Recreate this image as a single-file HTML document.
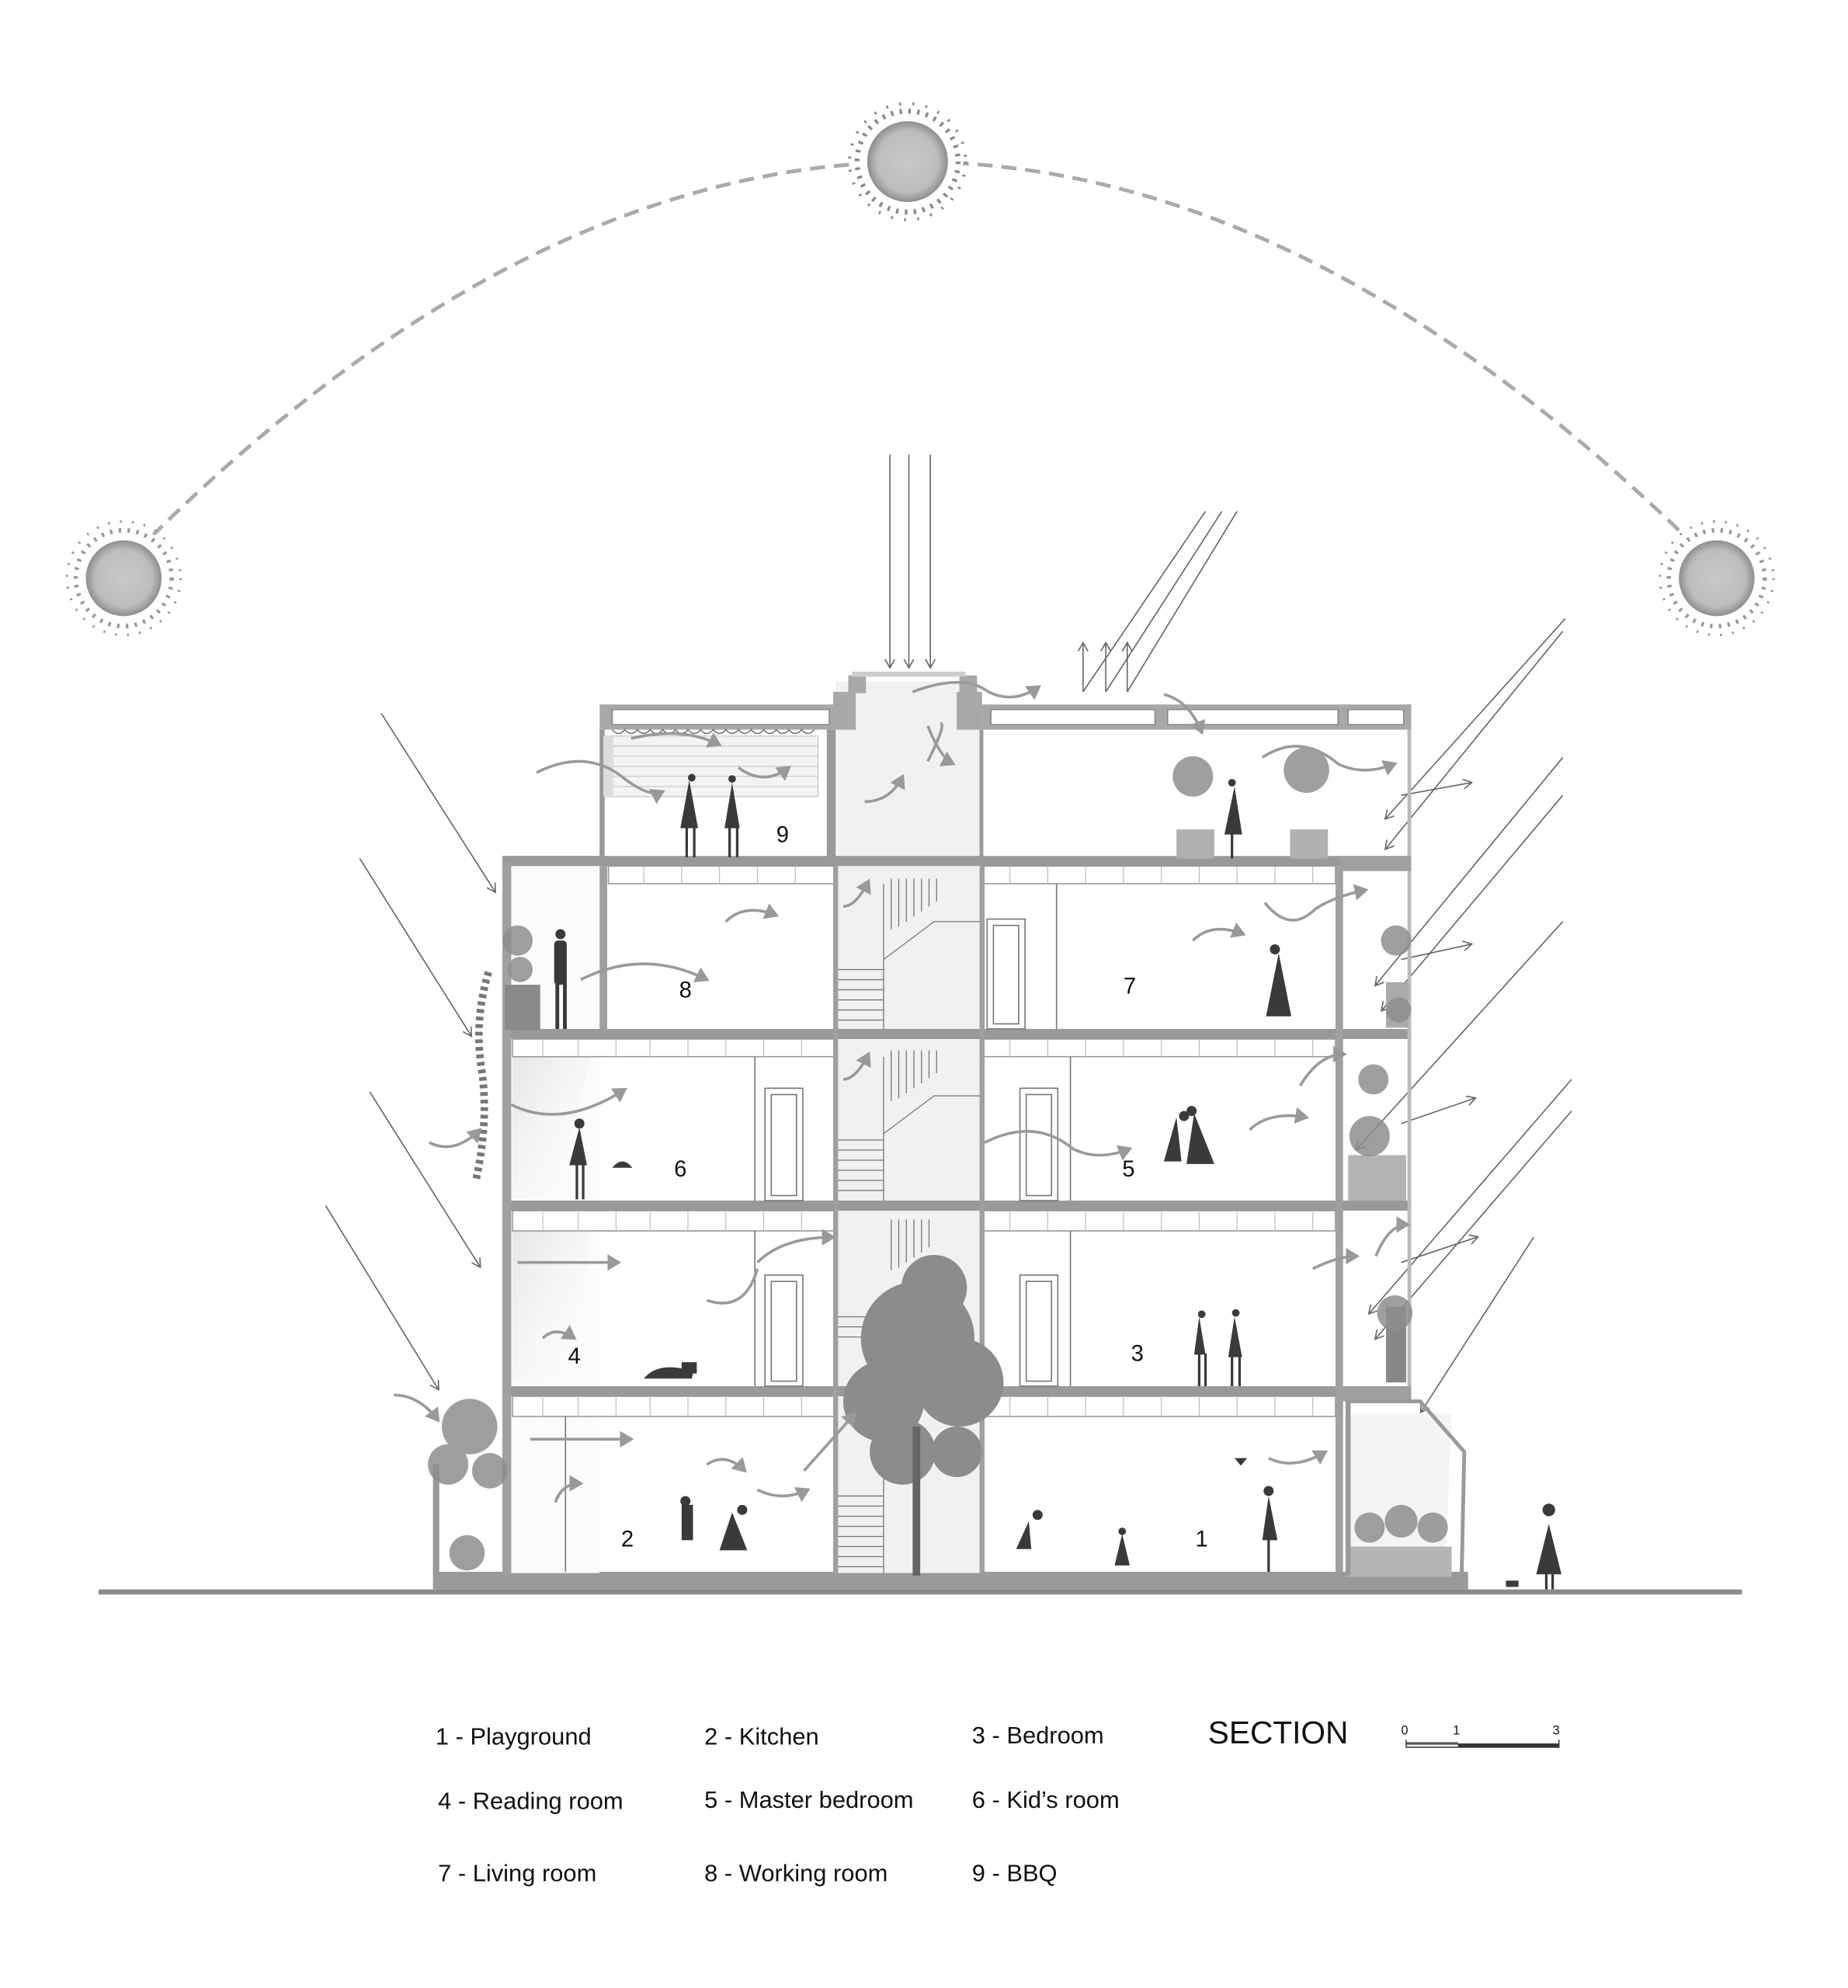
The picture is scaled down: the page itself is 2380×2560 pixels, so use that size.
<!DOCTYPE html>
<html><head><meta charset="utf-8"><style>
html,body{margin:0;padding:0;background:#fff}
svg{display:block}
text{font-family:"Liberation Sans",Arial,sans-serif;fill:#111}
</style></head><body>
<svg width="2380" height="2560" viewBox="0 0 1464 1574.7" xmlns="http://www.w3.org/2000/svg">
<defs>
<marker id="ah" markerWidth="8" markerHeight="8" refX="6" refY="4" orient="auto"><path d="M0,0 L7,4 L0,8" fill="none" stroke="#666" stroke-width="1"/></marker>
<marker id="wa" markerWidth="6" markerHeight="6" refX="4" refY="3" orient="auto"><path d="M0,0 L5,3 L0,6 Z" fill="#999"/></marker>
<radialGradient id="sun"><stop offset="0" stop-color="#c8c8c8"/><stop offset="0.75" stop-color="#bdbdbd"/><stop offset="1" stop-color="#8e8e8e"/></radialGradient>
<linearGradient id="glow" x1="0" y1="0" x2="1" y2="1"><stop offset="0" stop-color="#e4e4e4"/><stop offset="1" stop-color="#fff" stop-opacity="0"/></linearGradient>
</defs>

<!-- sun path -->
<path d="M120,425 Q719,-166 1330,420" fill="none" stroke="#aaa" stroke-width="3" stroke-dasharray="12,7"/>
<g>
<circle cx="719" cy="128" r="44" fill="#fff"/>
<circle cx="719" cy="128" r="40" fill="none" stroke="#888" stroke-width="4" stroke-dasharray="2,5"/>
<circle cx="719" cy="128" r="46" fill="none" stroke="#888" stroke-width="2.5" stroke-dasharray="1.5,9"/>
<circle cx="719" cy="128" r="32" fill="url(#sun)"/>
</g>
<g>
<circle cx="98" cy="458" r="42" fill="#fff"/>
<circle cx="98" cy="458" r="38" fill="none" stroke="#999" stroke-width="3.5" stroke-dasharray="2,5"/>
<circle cx="98" cy="458" r="45" fill="none" stroke="#999" stroke-width="2" stroke-dasharray="1.5,8"/>
<circle cx="98" cy="458" r="30" fill="url(#sun)"/>
</g>
<g>
<circle cx="1360" cy="458" r="42" fill="#fff"/>
<circle cx="1360" cy="458" r="38" fill="none" stroke="#999" stroke-width="3.5" stroke-dasharray="2,5"/>
<circle cx="1360" cy="458" r="45" fill="none" stroke="#999" stroke-width="2" stroke-dasharray="1.5,8"/>
<circle cx="1360" cy="458" r="30" fill="url(#sun)"/>
</g>

<!-- sun rays -->
<g stroke="#666" stroke-width="1" fill="none" marker-end="url(#ah)">
<line x1="705" y1="360" x2="705" y2="528"/>
<line x1="720" y1="360" x2="720" y2="528"/>
<line x1="737" y1="360" x2="737" y2="528"/>
<line x1="302" y1="565" x2="392" y2="706"/>
<line x1="285" y1="680" x2="373" y2="820"/>
<line x1="293" y1="865" x2="380" y2="1003"/>
<line x1="258" y1="955" x2="347" y2="1100"/>
<line x1="1240" y1="490" x2="1098" y2="648"/>
<line x1="1238" y1="500" x2="1098" y2="672"/>
<line x1="1238" y1="600" x2="1090" y2="780"/>
<line x1="1238" y1="630" x2="1095" y2="800"/>
<line x1="1238" y1="730" x2="1075" y2="910"/>
<line x1="1245" y1="855" x2="1085" y2="1040"/>
<line x1="1245" y1="880" x2="1090" y2="1060"/>
<line x1="1215" y1="980" x2="1126" y2="1118"/>
</g>
<g stroke="#666" stroke-width="1" fill="none">
<line x1="980" y1="405" x2="893" y2="548"/>
<line x1="968" y1="405" x2="876" y2="548"/>
<line x1="955" y1="405" x2="858" y2="548"/>
<line x1="858" y1="548" x2="858" y2="510" marker-end="url(#ah)"/>
<line x1="876" y1="548" x2="876" y2="510" marker-end="url(#ah)"/>
<line x1="893" y1="548" x2="893" y2="510" marker-end="url(#ah)"/>
<line x1="1110" y1="630" x2="1165" y2="620" marker-end="url(#ah)"/>
<line x1="1110" y1="760" x2="1165" y2="748" marker-end="url(#ah)"/>
<line x1="1110" y1="890" x2="1168" y2="870" marker-end="url(#ah)"/>
<line x1="1110" y1="1000" x2="1170" y2="980" marker-end="url(#ah)"/>
</g>

<!-- ground -->
<rect x="78" y="1259" width="1302" height="4" fill="#8a8a8a"/>
<rect x="343" y="1245" width="820" height="14" fill="#9a9a9a"/>

<!-- building light fills -->
<rect x="662" y="540" width="114" height="706" fill="#f1f1f1"/>
<rect x="400" y="686" width="75" height="560" fill="#fbfbfb"/>
<polygon points="406,830 470,830 440,950 406,950" fill="url(#glow)"/>
<polygon points="406,968 470,968 450,1095 406,1095" fill="url(#glow)"/>
<polygon points="1065,1120 1150,1120 1145,1245 1065,1245" fill="#f4f4f4"/>

<!-- roof level -->
<g fill="#a8a8a8">
<rect x="475" y="558" width="187" height="20"/>
<rect x="778" y="558" width="340" height="20"/>
<rect x="672" y="535" width="14" height="14"/>
<rect x="760" y="535" width="14" height="14"/>
<rect x="660" y="548" width="18" height="30"/>
<rect x="758" y="548" width="20" height="30"/>
</g>
<g fill="#fff" stroke="#888" stroke-width="1">
<rect x="485" y="562" width="172" height="12"/>
<rect x="785" y="562" width="130" height="12"/>
<rect x="925" y="562" width="135" height="12"/>
<rect x="1068" y="562" width="44" height="12"/>
</g>
<rect x="675" y="532" width="90" height="4" fill="#ccc"/>
<!-- BBQ room -->
<rect x="475" y="578" width="4" height="102" fill="#999"/>
<rect x="655" y="578" width="7" height="102" fill="#999"/>
<rect x="776" y="578" width="3" height="102" fill="#999"/>
<rect x="1115" y="578" width="3" height="102" fill="#bbb"/>
<path d="M485,578 q5,6 10,0 q5,6 10,0 q5,6 10,0 q5,6 10,0 q5,6 10,0 q5,6 10,0 q5,6 10,0 q5,6 10,0 q5,6 10,0 q5,6 10,0 q5,6 10,0 q5,6 10,0 q5,6 10,0 q5,6 10,0 q5,6 10,0 q5,6 10,0" fill="none" stroke="#777" stroke-width="1"/>
<g stroke="#bbb" stroke-width="0.6">
<rect x="480" y="583" width="168" height="48" fill="#f3f3f3"/>
<line x1="480" y1="591" x2="648" y2="591"/><line x1="480" y1="599" x2="648" y2="599"/><line x1="480" y1="607" x2="648" y2="607"/><line x1="480" y1="615" x2="648" y2="615"/><line x1="480" y1="623" x2="648" y2="623"/>
</g>
<rect x="478" y="583" width="8" height="48" fill="#ddd"/>

<!-- slabs -->
<g>
<rect x="398" y="678" width="720" height="8" fill="#999"/>
<rect x="398" y="815" width="720" height="8" fill="#999"/>
<rect x="398" y="951" width="720" height="8" fill="#999"/>
<rect x="398" y="1098" width="720" height="8" fill="#999"/>
</g>
<g fill="#fff" stroke="#999" stroke-width="1">
<rect x="482" y="686" width="180" height="14"/><rect x="778" y="686" width="280" height="14"/>
<rect x="406" y="823" width="256" height="14"/><rect x="778" y="823" width="280" height="14"/>
<rect x="406" y="959" width="256" height="16"/><rect x="778" y="959" width="280" height="16"/>
<rect x="406" y="1106" width="256" height="16"/><rect x="778" y="1106" width="280" height="16"/>
</g>
<g stroke="#bbb" stroke-width="0.7">
<path d="M430,823v14M458,823v14M488,823v14M515,823v14M545,823v14M575,823v14M605,823v14M635,823v14M800,823v14M830,823v14M860,823v14M890,823v14M920,823v14M950,823v14M980,823v14M1010,823v14M1040,823v14"/>
<path d="M430,959v16M458,959v16M488,959v16M515,959v16M545,959v16M575,959v16M605,959v16M635,959v16M800,959v16M830,959v16M860,959v16M890,959v16M920,959v16M950,959v16M980,959v16M1010,959v16M1040,959v16"/>
<path d="M430,1106v16M458,1106v16M488,1106v16M515,1106v16M545,1106v16M575,1106v16M605,1106v16M635,1106v16M800,1106v16M830,1106v16M860,1106v16M890,1106v16M920,1106v16M950,1106v16M980,1106v16M1010,1106v16M1040,1106v16"/>
<path d="M510,686v14M540,686v14M570,686v14M600,686v14M630,686v14M800,686v14M830,686v14M860,686v14M890,686v14M920,686v14M950,686v14M980,686v14M1010,686v14M1040,686v14"/>
</g>

<!-- walls -->
<g fill="#a0a0a0">
<rect x="398" y="678" width="7" height="570"/>
<rect x="475" y="686" width="6" height="130"/>
<rect x="660" y="686" width="4" height="560"/>
<rect x="776" y="686" width="4" height="560"/>
<rect x="1058" y="686" width="6" height="560"/>
<rect x="1062" y="1098" width="56" height="12"/>
<rect x="1062" y="678" width="56" height="12"/>
</g>
<rect x="1115" y="690" width="3" height="408" fill="#bbb"/>
<rect x="398" y="678" width="77" height="5" fill="#999"/>

<!-- interior partitions & doors -->
<g stroke="#777" stroke-width="1" fill="#fff">
<line x1="598" y1="837" x2="598" y2="951"/>
<line x1="598" y1="975" x2="598" y2="1098"/>
<line x1="848" y1="837" x2="848" y2="951"/>
<line x1="848" y1="975" x2="848" y2="1098"/>
<line x1="837" y1="700" x2="837" y2="815"/>
<line x1="448" y1="1122" x2="448" y2="1245"/>
<rect x="782" y="728" width="30" height="87"/><rect x="787" y="733" width="20" height="78"/>
<rect x="606" y="862" width="30" height="89"/><rect x="611" y="867" width="20" height="80"/>
<rect x="808" y="862" width="30" height="89"/><rect x="813" y="867" width="20" height="80"/>
<rect x="606" y="1010" width="30" height="88"/><rect x="611" y="1015" width="20" height="79"/>
<rect x="808" y="1010" width="30" height="88"/><rect x="813" y="1015" width="20" height="79"/>
</g>

<!-- stairs -->
<g stroke="#777" stroke-width="0.8" fill="none">
<path d="M664,768h36M664,776h36M664,784h36M664,792h36M664,800h36M664,808h36"/>
<path d="M700,700v115M700,760l40,-30 l36,0"/>
<path d="M706,696v40M712,696v38M718,696v34M724,696v30M730,696v26M736,696v22M742,696v18"/>
<path d="M664,903h36M664,911h36M664,919h36M664,927h36M664,935h36M664,943h36"/>
<path d="M700,837v114M700,898l40,-30 l36,0"/>
<path d="M706,832v40M712,832v38M718,832v34M724,832v30M730,832v26M736,832v22M742,832v18"/>
<path d="M664,1043h36M664,1051h36M664,1059h36M664,1185h36M664,1193h36M664,1201h36M664,1209h36M664,1217h36M664,1225h36M664,1233h36M664,1241h36"/>
<path d="M700,1120v126M706,966v40M712,966v38M718,966v34M724,966v30M730,966v26M736,966v22"/>
</g>

<!-- left planter + right annex -->
<rect x="343" y="1160" width="5" height="86" fill="#999"/>
<rect x="400" y="780" width="28" height="36" fill="#8a8a8a"/>
<rect x="1098" y="778" width="18" height="36" fill="#aaa"/>
<rect x="1068" y="915" width="46" height="36" fill="#b4b4b4"/>
<rect x="1098" y="1035" width="16" height="60" fill="#888"/>
<path d="M1066,1110 L1125,1110 L1160,1150 L1158,1245" fill="none" stroke="#999" stroke-width="3"/>
<rect x="1066" y="1225" width="84" height="24" fill="#b5b5b5"/>
<rect x="1066" y="1110" width="4" height="138" fill="#999"/>
<!-- roof planters -->
<rect x="932" y="657" width="30" height="23" fill="#b0b0b0"/>
<rect x="1022" y="657" width="30" height="23" fill="#b0b0b0"/>

<!-- plants (clusters) -->
<g fill="#8e8e8e" opacity="0.85">
<circle cx="372" cy="1130" r="22"/><circle cx="355" cy="1160" r="16"/><circle cx="388" cy="1165" r="14"/><circle cx="370" cy="1230" r="14"/>
<circle cx="410" cy="745" r="12"/><circle cx="412" cy="768" r="10"/><circle cx="1106" cy="745" r="12"/><circle cx="1108" cy="800" r="10"/>
<circle cx="1088" cy="855" r="12"/><circle cx="1085" cy="900" r="16"/><circle cx="1105" cy="1040" r="14"/>
<circle cx="1085" cy="1210" r="12"/><circle cx="1110" cy="1205" r="13"/><circle cx="1135" cy="1210" r="12"/>
<circle cx="945" cy="615" r="16"/><circle cx="1035" cy="610" r="18"/>
</g>
<path d="M387,770 q-12,40 -5,80 q5,40 -5,85" fill="none" stroke="#777" stroke-width="6" stroke-dasharray="3,3"/>
<!-- tree -->
<g fill="#8c8c8c">
<circle cx="727" cy="1060" r="45"/><circle cx="700" cy="1110" r="32"/><circle cx="760" cy="1095" r="35"/><circle cx="740" cy="1020" r="26"/><circle cx="715" cy="1150" r="26"/><circle cx="758" cy="1150" r="20"/>
</g>
<rect x="723" y="1130" width="6" height="118" fill="#666"/>

<!-- people -->
<g fill="#3a3a3a">
<path d="M546,618 l-7,38 h14 z"/><circle cx="548" cy="616" r="3"/><rect x="543" y="655" width="2" height="24"/><rect x="549" y="655" width="2" height="24"/>
<path d="M580,620 l-6,36 h12 z"/><circle cx="580" cy="617" r="3"/><rect x="577" y="655" width="2" height="24"/><rect x="583" y="655" width="2" height="24"/>
<path d="M978,623 l-8,38 h14 z"/><circle cx="976" cy="620" r="3"/><rect x="975" y="660" width="2" height="20"/>
<rect x="439" y="745" width="10" height="35" rx="3"/><circle cx="444" cy="740" r="4"/><rect x="440" y="778" width="3" height="37"/><rect x="446" y="778" width="3" height="37"/>
<path d="M1013,755 l-10,50 h20 z"/><circle cx="1010" cy="752" r="4"/>
<path d="M459,893 l-8,30 h14 z"/><circle cx="459" cy="890" r="4"/><rect x="456" y="922" width="2" height="28"/><rect x="461" y="922" width="2" height="28"/>
<path d="M485,925 q8,-10 16,0 z"/>
<path d="M932,885 l-10,35 h14 z"/><circle cx="938" cy="884" r="4"/><path d="M946,882 l-6,40 h22 z"/><circle cx="944" cy="880" r="4"/>
<path d="M950,1043 l-4,30 h9 z"/><circle cx="952" cy="1041" r="3"/><rect x="949" y="1072" width="2" height="26"/><rect x="954" y="1072" width="2" height="26"/>
<path d="M978,1043 l-5,32 h11 z"/><circle cx="979" cy="1040" r="3"/><rect x="975" y="1074" width="2" height="24"/><rect x="981" y="1074" width="2" height="24"/>
<path d="M510,1092 q10,-12 30,-8 l10,0 -2,8 z"/><rect x="540" y="1079" width="12" height="9"/>
<rect x="540" y="1192" width="9" height="28"/><circle cx="543" cy="1189" r="4"/>
<path d="M580,1198 l-10,30 h22 z"/><circle cx="588" cy="1196" r="4"/>
<path d="M815,1205 l-10,22 h12 z"/><circle cx="822" cy="1200" r="4"/>
<path d="M889,1215 l-6,25 h12 z"/><circle cx="889" cy="1213" r="3"/>
<path d="M1005,1185 l-5,35 h12 z"/><circle cx="1005" cy="1181" r="4"/><rect x="1004" y="1218" width="2" height="27"/>
<path d="M978,1155 l5,6 l5,-6 z"/>
<path d="M1227,1207 l-10,40 h20 z"/><circle cx="1227" cy="1196" r="5"/><rect x="1224" y="1245" width="2" height="14"/><rect x="1229" y="1245" width="2" height="14"/>
<rect x="1193" y="1252" width="10" height="5"/>
</g>

<!-- wind arrows -->
<g stroke="#9a9a9a" stroke-width="2.2" fill="none" marker-end="url(#wa)">
<path d="M425,612 q40,-20 70,5 q20,15 30,10"/>
<path d="M500,585 q40,-10 70,5"/>
<path d="M585,608 q20,15 40,0"/>
<path d="M685,635 q20,0 30,-20"/>
<path d="M735,603 q15,-30 10,-30 M735,575 q10,25 20,30"/>
<path d="M723,548 q40,-15 60,0 q20,10 40,-4"/>
<path d="M922,550 q20,5 30,30"/>
<path d="M1000,600 q30,-20 60,5 q20,10 45,0"/>
<path d="M460,776 q50,-25 100,0"/>
<path d="M575,730 q15,-15 40,-5"/>
<path d="M668,718 q10,0 20,-20"/>
<path d="M945,745 q15,-15 40,-5"/>
<path d="M1002,715 q20,25 40,5 q15,-10 40,-15"/>
<path d="M405,875 q40,20 90,-12"/>
<path d="M340,905 q20,10 40,-10"/>
<path d="M668,855 q10,0 20,-20"/>
<path d="M780,905 q40,-20 70,5 q20,10 45,0"/>
<path d="M990,895 q15,-15 45,-10"/>
<path d="M1030,860 q15,-25 35,-25"/>
<path d="M410,1000 q40,0 80,0"/>
<path d="M430,1060 q10,-10 25,0"/>
<path d="M560,1030 q30,10 40,-25 M600,1000 q20,-20 60,-20"/>
<path d="M1040,1005 q20,-10 35,-10"/>
<path d="M1090,995 q10,-25 25,-25"/>
<path d="M312,1105 q20,0 35,20"/>
<path d="M420,1140 q40,0 80,0"/>
<path d="M440,1190 q5,-15 20,-15"/>
<path d="M560,1160 q15,-10 30,5"/>
<path d="M600,1180 q20,10 40,0"/>
<path d="M637,1165 q40,-45 40,-45"/>
<path d="M1005,1155 q20,10 45,-5"/>
</g>

<!-- room numbers -->
<g font-size="18">
<text x="615" y="667">9</text>
<text x="538" y="790">8</text>
<text x="890" y="787">7</text>
<text x="534" y="932">6</text>
<text x="889" y="932">5</text>
<text x="450" y="1080">4</text>
<text x="896" y="1078">3</text>
<text x="492" y="1225">2</text>
<text x="947" y="1225">1</text>
</g>

<!-- legend -->
<g font-size="19">
<text x="345" y="1382">1 - Playground</text>
<text x="558" y="1382">2 - Kitchen</text>
<text x="770" y="1381">3 - Bedroom</text>
<text x="347" y="1433">4 - Reading room</text>
<text x="558" y="1432">5 - Master bedroom</text>
<text x="770" y="1432">6 - Kid’s room</text>
<text x="347" y="1490">7 - Living room</text>
<text x="558" y="1490">8 - Working room</text>
<text x="770" y="1490">9 - BBQ</text>
</g>
<text x="957" y="1381" font-size="25">SECTION</text>
<g font-size="10"><text x="1110" y="1374">0</text><text x="1151" y="1374">1</text><text x="1230" y="1374">3</text></g>
<path d="M1114,1378v6h121v-6" fill="none" stroke="#444" stroke-width="1"/>
<rect x="1155" y="1381" width="80" height="3" fill="#333"/>
<rect x="1114" y="1380" width="41" height="2" fill="#555"/>
</svg>
</body></html>
